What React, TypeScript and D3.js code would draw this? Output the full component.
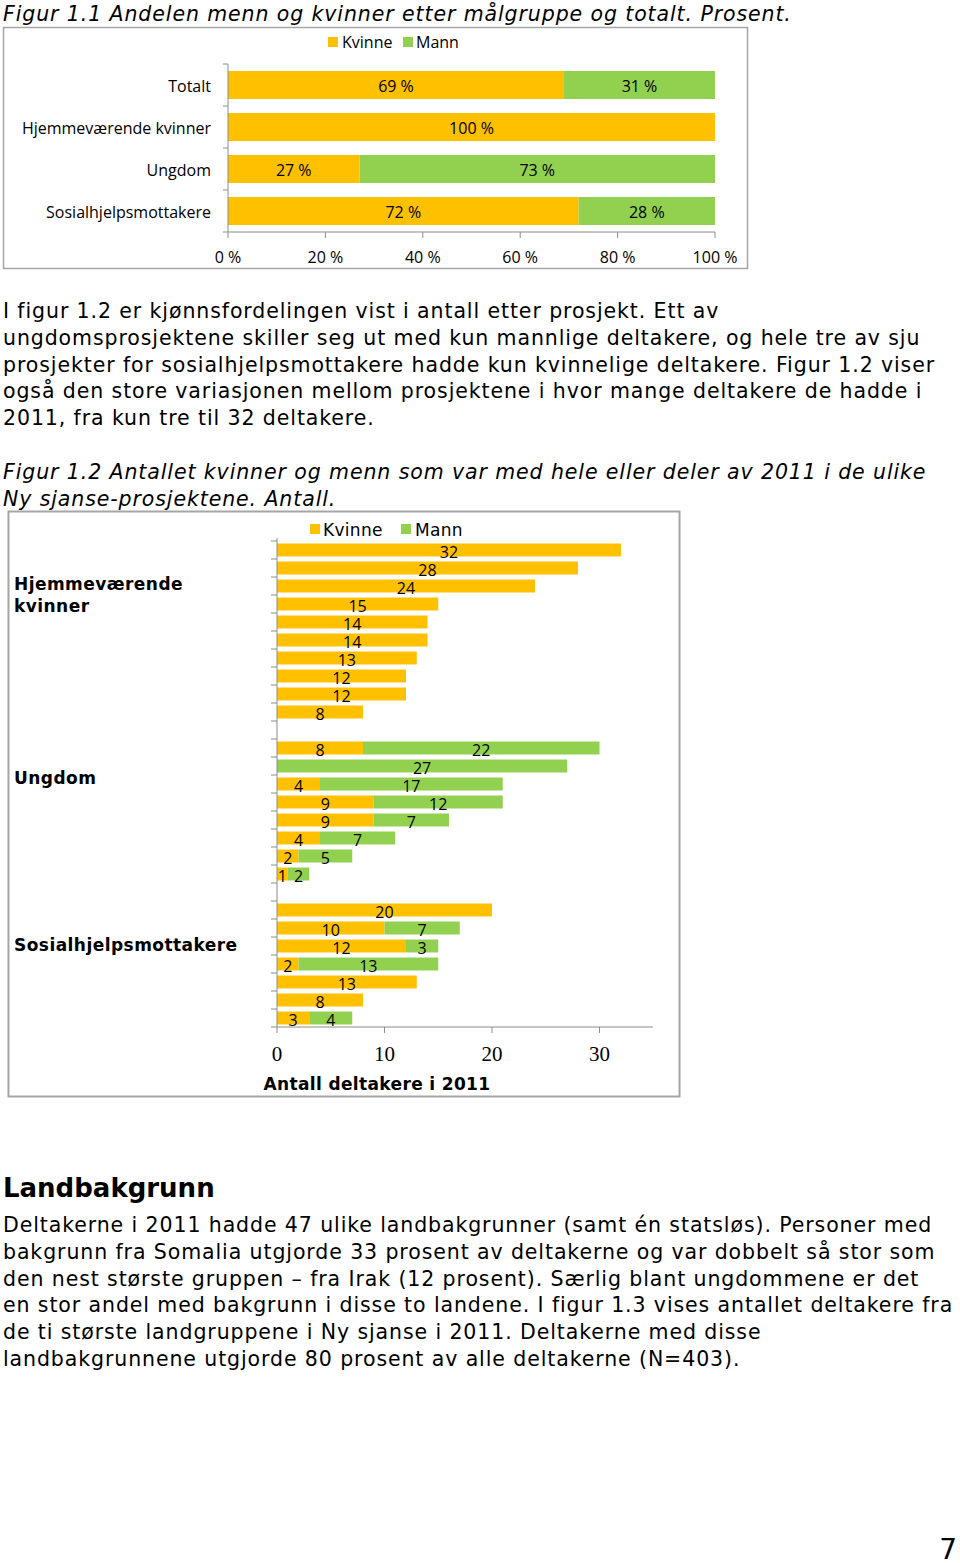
import React from "react";
import * as d3 from "d3";

// ---------- Figure 1.1 data ----------
const fig1Categories = ["Totalt", "Hjemmeværende kvinner", "Ungdom", "Sosialhjelpsmottakere"];
const fig1Kvinne = [69, 100, 27, 72];
const fig1Mann = [31, 0, 73, 28];
const fig1Ticks = [0, 20, 40, 60, 80, 100];

// ---------- Figure 1.2 data ----------
const fig2Groups = ["Hjemmeværende kvinner", "Ungdom", "Sosialhjelpsmottakere"];
const hjemKvinne = [32, 28, 24, 15, 14, 14, 13, 12, 12, 8];
const hjemMann = [0, 0, 0, 0, 0, 0, 0, 0, 0, 0];
const ungKvinne = [8, 0, 4, 9, 9, 4, 2, 1];
const ungMann = [22, 27, 17, 12, 7, 7, 5, 2];
const sosKvinne = [20, 10, 12, 2, 13, 8, 3];
const sosMann = [0, 7, 3, 13, 0, 0, 4];
const fig2Ticks = [0, 10, 20, 30];

const seriesNames = ["Kvinne", "Mann"];
const KVINNE = "#FFC000";
const MANN = "#92D050";

// ---------- text ----------
const fig1Title = "Figur 1.1 Andelen menn og kvinner etter målgruppe og totalt. Prosent.";
const para1 = [
  "I figur 1.2 er kjønnsfordelingen vist i antall etter prosjekt. Ett av",
  "ungdomsprosjektene skiller seg ut med kun mannlige deltakere, og hele tre av sju",
  "prosjekter for sosialhjelpsmottakere hadde kun kvinnelige deltakere. Figur 1.2 viser",
  "også den store variasjonen mellom prosjektene i hvor mange deltakere de hadde i",
  "2011, fra kun tre til 32 deltakere.",
];
const fig2Title = [
  "Figur 1.2 Antallet kvinner og menn som var med hele eller deler av 2011 i de ulike",
  "Ny sjanse-prosjektene. Antall.",
];
const heading = "Landbakgrunn";
const para2 = [
  "Deltakerne i 2011 hadde 47 ulike landbakgrunner (samt én statsløs). Personer med",
  "bakgrunn fra Somalia utgjorde 33 prosent av deltakerne og var dobbelt så stor som",
  "den nest største gruppen – fra Irak (12 prosent). Særlig blant ungdommene er det",
  "en stor andel med bakgrunn i disse to landene. I figur 1.3 vises antallet deltakere fra",
  "de ti største landgruppene i Ny sjanse i 2011. Deltakerne med disse",
  "landbakgrunnene utgjorde 80 prosent av alle deltakerne (N=403).",
];

const bodyFont = "'DejaVu Sans', Verdana, sans-serif";
const narrowFont = "'Liberation Sans Narrow', 'Open Sans', sans-serif";
const serifFont = "'Liberation Serif', 'Times New Roman', serif";
const textColor = "#000";
const axisColor = "#8c8c8c";
const bodySize = 20.5;
const bodySpacing = 0.9;

function Figure1() {
  const x = d3.scaleLinear().domain([0, 100]).range([228, 715]);
  const y = d3.scaleBand<string>().domain(fig1Categories).range([64, 232]).paddingInner(1 / 3).paddingOuter(1 / 6);
  const boundaries = d3.range(fig1Categories.length + 1).map((i) => 64 + i * y.step());
  return (
    <g>
      <rect x={3.5} y={27.5} width={744} height={241} fill="#fff" stroke="#a6a6a6" strokeWidth={1.5} />
      {/* legend */}
      <rect x={328} y={37} width={10} height={10} fill={KVINNE} />
      <text x={342} y={48} fontFamily={narrowFont} fontSize={16} fill={textColor}>{seriesNames[0]}</text>
      <rect x={403} y={37} width={10} height={10} fill={MANN} />
      <text x={416} y={48} fontFamily={narrowFont} fontSize={16} fill={textColor}>{seriesNames[1]}</text>
      {/* bars */}
      {fig1Categories.map((c, i) => {
        const yy = y(c)!;
        const k = fig1Kvinne[i];
        const m = fig1Mann[i];
        return (
          <g key={c}>
            {k > 0 && <rect x={x(0)} y={yy} width={x(k) - x(0)} height={y.bandwidth()} fill={KVINNE} />}
            {m > 0 && <rect x={x(k)} y={yy} width={x(k + m) - x(k)} height={y.bandwidth()} fill={MANN} />}
            {k > 0 && (
              <text x={(x(0) + x(k)) / 2} y={yy + y.bandwidth() / 2 + 1} textAnchor="middle" dominantBaseline="central" fontFamily={narrowFont} fontSize={16} fill={textColor}>{k} %</text>
            )}
            {m > 0 && (
              <text x={(x(k) + x(k + m)) / 2} y={yy + y.bandwidth() / 2 + 1} textAnchor="middle" dominantBaseline="central" fontFamily={narrowFont} fontSize={16} fill={textColor}>{m} %</text>
            )}
            <text x={211} y={yy + y.bandwidth() / 2 + 1} textAnchor="end" dominantBaseline="central" fontFamily={narrowFont} fontSize={16} fill={textColor}>{c}</text>
          </g>
        );
      })}
      {/* axes */}
      <line x1={228} x2={228} y1={64} y2={232} stroke={axisColor} />
      {boundaries.map((b, i) => (
        <line key={i} x1={223} x2={228} y1={b} y2={b} stroke={axisColor} />
      ))}
      <line x1={228} x2={715} y1={232} y2={232} stroke={axisColor} />
      {fig1Ticks.map((t) => (
        <g key={t}>
          <line x1={x(t)} x2={x(t)} y1={232} y2={238} stroke={axisColor} />
          <text x={x(t)} y={257} textAnchor="middle" dominantBaseline="central" fontFamily={narrowFont} fontSize={16} fill={textColor}>{t} %</text>
        </g>
      ))}
    </g>
  );
}

type Row = { key: string; k: number; m: number; group: number };

function Figure2() {
  const groupK = [hjemKvinne, ungKvinne, sosKvinne];
  const groupM = [hjemMann, ungMann, sosMann];
  const slots: string[] = [];
  const rows: Row[] = [];
  groupK.forEach((ks, g) => {
    if (g > 0) slots.push(`gap-${g}`);
    ks.forEach((k, i) => {
      const key = `${g}-${i}`;
      slots.push(key);
      rows.push({ key, k, m: groupM[g][i], group: g });
    });
  });
  const x = d3.scaleLinear().domain([0, 35]).range([277, 653.25]);
  const y = d3.scaleBand<string>().domain(slots).range([541, 1027]).paddingInner(0.28).paddingOuter(0.14);
  const step = y.step();
  const bw = y.bandwidth();
  const labelRow = [2.5, 1.67, 1.94];
  return (
    <g>
      <rect x={8.5} y={511.5} width={671} height={585} fill="#fff" stroke="#a6a6a6" strokeWidth={2} />
      {/* legend */}
      <rect x={310} y={524} width={10} height={10} fill={KVINNE} />
      <text x={323} y={536} fontFamily={bodyFont} fontSize={17} letterSpacing={0.3} fill={textColor}>{seriesNames[0]}</text>
      <rect x={401} y={524} width={10} height={10} fill={MANN} />
      <text x={415} y={536} fontFamily={bodyFont} fontSize={17} letterSpacing={0.3} fill={textColor}>{seriesNames[1]}</text>
      {/* bars */}
      {rows.map((r) => {
        const yy = y(r.key)!;
        return (
          <g key={r.key}>
            {r.k > 0 && <rect x={x(0)} y={yy} width={x(r.k) - x(0)} height={bw} fill={KVINNE} />}
            {r.m > 0 && <rect x={x(r.k)} y={yy} width={x(r.k + r.m) - x(r.k)} height={bw} fill={MANN} />}
          </g>
        );
      })}
      {rows.map((r) => {
        const yy = y(r.key)! + bw / 2 + 1.5;
        return (
          <g key={`l-${r.key}`}>
            {r.k > 0 && (
              <text x={(x(0) + x(r.k)) / 2} y={yy} textAnchor="middle" dominantBaseline="central" fontFamily={narrowFont} fontSize={16} fill={textColor}>{r.k}</text>
            )}
            {r.m > 0 && (
              <text x={(x(r.k) + x(r.k + r.m)) / 2} y={yy} textAnchor="middle" dominantBaseline="central" fontFamily={narrowFont} fontSize={16} fill={textColor}>{r.m}</text>
            )}
          </g>
        );
      })}
      {/* group labels */}
      {fig2Groups.map((gname, g) => {
        const first = y(`${g}-0`)! + bw / 2;
        const cy = first + labelRow[g] * step;
        const words = g === 0 ? ["Hjemmeværende", "kvinner"] : [gname];
        return (
          <text key={gname} x={14} y={cy - (words.length - 1) * 11} dominantBaseline="central" fontFamily={bodyFont} fontWeight="bold" fontSize={17} letterSpacing={0.45} fill={textColor}>
            {words.map((w, i) => (
              <tspan key={i} x={14} dy={i === 0 ? 0 : 22}>{w}</tspan>
            ))}
          </text>
        );
      })}
      {/* axes */}
      <line x1={277} x2={277} y1={538} y2={1027} stroke={axisColor} />
      {d3.range(slots.length + 1).map((i) => (
        <line key={i} x1={271} x2={277} y1={541 + i * step} y2={541 + i * step} stroke={axisColor} />
      ))}
      <line x1={277} x2={653} y1={1027} y2={1027} stroke={axisColor} />
      {fig2Ticks.map((t) => (
        <g key={t}>
          <line x1={x(t)} x2={x(t)} y1={1027} y2={1033} stroke={axisColor} />
          <text x={x(t)} y={1061} textAnchor="middle" fontFamily={serifFont} fontSize={21} fill={textColor}>{t}</text>
        </g>
      ))}
      <text x={377} y={1090} textAnchor="middle" fontFamily={bodyFont} fontWeight="bold" fontSize={17} letterSpacing={0.35} fill={textColor}>Antall deltakere i 2011</text>
    </g>
  );
}

export default function App() {
  const lh = 26.75;
  return (
    <svg width={960} height={1563} style={{ position: "absolute", left: 0, top: 0, display: "block", background: "#fff" }}>
      <rect x={0} y={0} width={960} height={1563} fill="#fff" />
      <text x={3} y={21} fontFamily={bodyFont} fontStyle="italic" fontSize={bodySize} letterSpacing={bodySpacing} fill={textColor}>{fig1Title}</text>
      <Figure1 />
      {para1.map((l, i) => (
        <text key={i} x={3} y={318 + i * lh} fontFamily={bodyFont} fontSize={bodySize} letterSpacing={bodySpacing} fill={textColor}>{l}</text>
      ))}
      {fig2Title.map((l, i) => (
        <text key={i} x={3} y={479 + i * lh} fontFamily={bodyFont} fontStyle="italic" fontSize={bodySize} letterSpacing={bodySpacing} fill={textColor}>{l}</text>
      ))}
      <Figure2 />
      <text x={3} y={1197} fontFamily={bodyFont} fontWeight="bold" fontSize={26} fill={textColor}>{heading}</text>
      {para2.map((l, i) => (
        <text key={i} x={3} y={1232 + i * lh} fontFamily={bodyFont} fontSize={bodySize} letterSpacing={bodySpacing} fill={textColor}>{l}</text>
      ))}
      <text x={957} y={1559} textAnchor="end" fontFamily={bodyFont} fontSize={28} fill={textColor}>7</text>
    </svg>
  );
}
